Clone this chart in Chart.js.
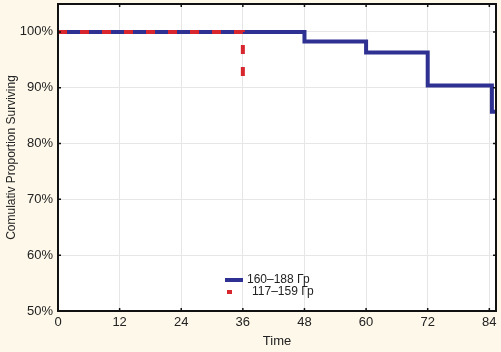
<!DOCTYPE html>
<html>
<head>
<meta charset="utf-8">
<script src="https://cdn.jsdelivr.net/npm/chart.js@4.4.1/dist/chart.umd.min.js"></script>
<style>
  html, body { margin: 0; padding: 0; background: #fdf8ea; }
  #wrap { width: 501px; height: 352px; position: relative; }
</style>
</head>
<body>
<div id="wrap"><canvas id="km"></canvas></div>
<script>
  // Kaplan–Meier curves (months, % surviving)
  const timeHigh = [0, 48, 60, 72, 84.5, 85.3];
  const survHigh = [100, 98.3, 96.3, 90.4, 85.7, 85.7];
  const timeLow = [0, 36];
  const survLow = [100, 91];

  const labelHigh = "160–188 Гр";
  const labelLow = "117–159 Гр";
  const xTicks = [0, 12, 24, 36, 48, 60, 72, 84];
  const yTicks = [50, 60, 70, 80, 90, 100];

  const BLUE = "#2e3192";
  const RED = "#d7262e";

  function toPoints(xs, ys) {
    return xs.map(function (x, i) { return { x: x, y: ys[i] }; });
  }

  // white plot area + black frame + small inner ticks, legend inside the plot
  const frame = {
    id: "frame",
    beforeDraw(chart) {
      const { ctx, chartArea: a } = chart;
      ctx.save();
      ctx.fillStyle = "#ffffff";
      ctx.fillRect(a.left, a.top, a.right - a.left, a.bottom - a.top);
      ctx.restore();
    },
    afterDraw(chart) {
      const { ctx, chartArea: a, scales } = chart;
      ctx.save();
      ctx.strokeStyle = "#111";
      ctx.lineWidth = 2;
      ctx.strokeRect(a.left, a.top, a.right - a.left, a.bottom - a.top);
      ctx.lineWidth = 1.5;
      ctx.beginPath();
      xTicks.forEach(function (t) {
        const px = scales.x.getPixelForValue(t);
        ctx.moveTo(px, a.top); ctx.lineTo(px, a.top + 3);
        ctx.moveTo(px, a.bottom); ctx.lineTo(px, a.bottom - 3);
      });
      yTicks.forEach(function (t) {
        const py = scales.y.getPixelForValue(t);
        ctx.moveTo(a.right, py); ctx.lineTo(a.right - 3, py);
        ctx.moveTo(a.left, py); ctx.lineTo(a.left + 3, py);
      });
      ctx.stroke();

      const lx = 225, ly = 280;
      ctx.font = "12px 'Liberation Sans', Arial, sans-serif";
      ctx.textBaseline = "middle";
      ctx.fillStyle = "#222";
      ctx.strokeStyle = BLUE;
      ctx.lineWidth = 4;
      ctx.beginPath();
      ctx.moveTo(lx, ly); ctx.lineTo(lx + 18, ly);
      ctx.stroke();
      ctx.fillText(labelHigh, lx + 22, ly);
      ctx.fillStyle = RED;
      ctx.fillRect(lx + 2, ly + 10, 5, 4);
      ctx.fillStyle = "#222";
      ctx.fillText(labelLow, lx + 27, ly + 12);
      ctx.restore();
    }
  };

  const tickFont = { family: "'Liberation Sans', Arial, sans-serif", size: 13 };

  new Chart(document.getElementById("km"), {
    type: "line",
    data: {
      datasets: [
        {
          label: labelLow,
          data: toPoints(timeLow, survLow),
          borderColor: RED,
          borderWidth: 4,
          borderDash: [9, 13],
          stepped: "before",
          pointRadius: 0,
          fill: false,
          order: 0
        },
        {
          label: labelHigh,
          data: toPoints(timeHigh, survHigh),
          borderColor: BLUE,
          borderWidth: 4,
          stepped: "before",
          pointRadius: 0,
          fill: false,
          order: 1
        }
      ]
    },
    options: {
      responsive: true,
      maintainAspectRatio: false,
      animation: false,
      layout: { padding: { top: 4, right: 5, left: 0, bottom: 0 } },
      plugins: { legend: { display: false }, tooltip: { enabled: false } },
      scales: {
        x: {
          type: "linear",
          min: 0,
          max: 85.3,
          afterBuildTicks: function (s) {
            s.ticks = xTicks.map(function (v) { return { value: v }; });
          },
          afterFit: function (s) {
            s.height = 41;
            s.paddingLeft = 0;
            s.paddingRight = 0;
          },
          grid: { color: "#e6e6e6", lineWidth: 1, drawTicks: false },
          border: { display: false },
          ticks: { color: "#222", font: tickFont, padding: 4, maxRotation: 0 },
          title: {
            display: true, text: "Time", color: "#222",
            font: { family: "'Liberation Sans', Arial, sans-serif", size: 13 },
            padding: { top: 0, bottom: 3 }
          }
        },
        y: {
          min: 50,
          max: 105,
          afterBuildTicks: function (s) {
            s.ticks = yTicks.map(function (v) { return { value: v }; });
          },
          afterFit: function (s) {
            s.width = 58;
            s.paddingTop = 0;
            s.paddingBottom = 0;
          },
          grid: { color: "#e6e6e6", lineWidth: 1, drawTicks: false },
          border: { display: false },
          ticks: {
            color: "#222", font: tickFont, padding: 5,
            callback: function (v) { return v + "%"; }
          },
          title: {
            display: true, text: "Comulativ Proportion Surviving", color: "#222",
            font: { family: "'Liberation Sans', Arial, sans-serif", size: 12 },
            padding: { top: 4, bottom: 0 }
          }
        }
      }
    },
    plugins: [frame]
  });
</script>
</body>
</html>
